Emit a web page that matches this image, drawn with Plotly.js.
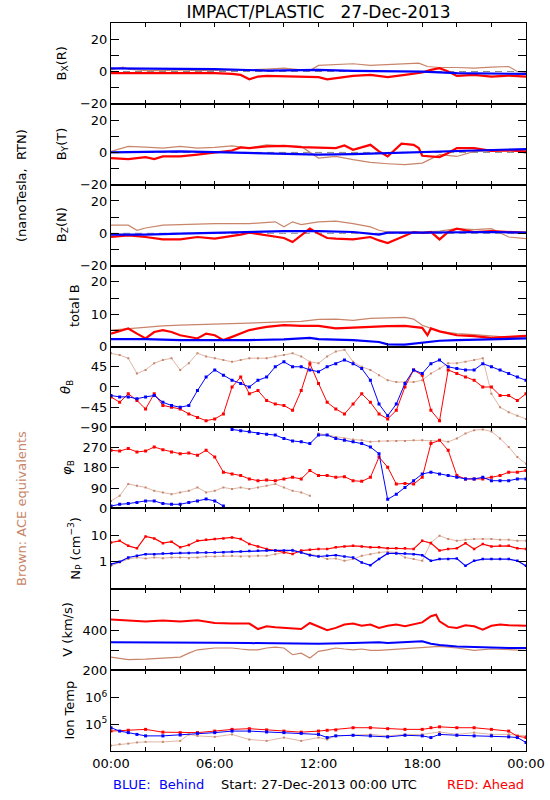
<!DOCTYPE html>
<html>
<head>
<meta charset="utf-8">
<script src="https://cdn.plot.ly/plotly-3.0.1.min.js"></script>
<style>html,body{margin:0;padding:0;background:#fff;}#chart{width:550px;height:800px;}</style>
</head>
<body>
<div id="chart"></div>
<script>
// ---------- time grids (hours since 27-Dec-2013 00:00 UTC) ----------
const tHalf = [0,0.5,1,1.5,2,2.5,3,3.5,4,4.5,5,5.5,6,6.5,7,7.5,8,8.5,9,9.5,10,10.5,11,11.5,12,12.5,13,13.5,14,14.5,15,15.5,16,16.5,17,17.5,18,18.5,19,19.5,20,20.5,21,21.5,22,22.5,23,23.5,24];

// ---------- Bx (R) ----------
const bxRedT = [0,1,2,3,4,5,6,7,7.5,8,8.5,9,10,11,12,12.5,13,14,15,16,17,18,18.5,19,19.5,20,21,22,23,24];
const bxRed  = [-1.0,-1.0,-0.6,-1.0,-0.6,-0.8,-1.0,-1.5,-2.1,-4.8,-3.1,-2.7,-3.1,-3.5,-3.5,-4.8,-4.2,-2.7,-2.1,-3.5,-2.1,-0.6,1.0,2.1,0,-2.7,-2.1,-3.1,-2.5,-3.1];
const bxBlueT = [0,3,6,9,12,14,16,18,20,22,24];
const bxBlue  = [1.9,1.5,1.5,0.6,1.0,0.4,0,0,-1.0,-1.2,-1.5];
const bxBrownT = [0,0.7,1,2,3,4,5,6,7,8,9,10,11,11.5,12,13,14,15,16,17,17.8,18.3,19,20,21,22,23,23.5,24];
const bxBrown  = [1.0,2.7,1.5,0.6,0.6,1.0,0.6,0.6,1.0,1.0,1.5,2.1,1.0,0.6,3.8,4.2,4.8,3.8,4.2,4.8,5.2,3.1,2.5,2.5,2.1,2.7,3.1,0,-0.6];

// ---------- By (T) ----------
const byRedT = [0,1,2,2.5,3,4,5,6,7,7.5,8,9,10,11,12,13,13.5,14,15,15.5,16,16.3,16.8,17.5,17.8,18,19,19.5,20,21,22,23,24];
const byRed  = [-3.5,-4.1,-2.9,-4.1,-2.5,-2.5,-1.4,0,1.2,3.1,2.7,3.7,4.1,3.3,3.1,2.7,4.3,1.6,4.7,0.6,-2.5,0.6,5.4,4.7,2.7,-2.1,-2.9,-0.4,2.7,2.7,1.0,1.2,0.6];
const byBlueT = [0,2,4,6,8,10,12,14,16,18,20,22,24];
const byBlue  = [0,0.2,0.6,0.2,-0.4,-0.8,-1.4,-1.0,-0.4,0.2,0.8,1.2,2.1];
const byBrownT = [0,1,2,3,4,5,6,7,8,9,10,11,12,13,14,15,16,17,18,19,20,21,22,23,24];
const byBrown  = [0.6,3.7,3.3,2.7,3.7,2.7,3.1,4.1,2.7,4.7,4.1,3.7,-3.5,-2.5,-4.5,-6.2,-7.0,-7.6,-6.6,-1.4,-2.5,0.6,1.0,1.6,-0.4];

// ---------- Bz (N) ----------
const bzRedT = [0,1,2,3,4,5,6,7,7.5,8,9,10,10.5,11,11.5,12,12.5,13,14,15,15.5,16,16.5,17,17.5,18,18.5,19,19.5,20,21,22,23,24];
const bzRed  = [-2.3,-1.3,-2.3,-3.8,-3.8,-2.3,-3.3,-1.9,-0.8,0.4,-1.3,-2.9,-5.4,-1.3,2.9,-0.2,-2.9,-3.3,-3.8,-2.3,-4.4,-6.0,-3.8,-1.3,0.8,0.2,0.8,-3.8,0.8,2.9,0.8,1.3,0.8,0.4];
const bzBlueT = [0,2,4,6,8,10,12,14,15.5,16,18,20,22,24];
const bzBlue  = [-0.8,-0.8,-0.2,0.4,0.8,1.3,1.3,0.8,-0.8,0.4,0.4,0.8,0.8,0.4];
const bzBrownT = [0,1,1.5,2,3,4,5,6,8,9,9.5,10,10.5,11,12,13,14,15,15.5,16,17,18,19,20,21,22,23,24];
const bzBrown  = [5.0,5.0,1.9,3.3,5.0,5.4,6.0,6.0,6.0,6.5,7.1,4.0,7.1,5.4,7.1,7.5,6.0,4.0,1.9,0.8,0.8,0.8,1.3,2.9,2.3,2.9,-2.3,-3.3];

// ---------- total B ----------
const btRedT = [0,0.5,1,1.5,2,2.5,3,3.5,4,5,5.5,6,6.5,7,7.5,8,9,10,11,12,13,14,15,16,17,18,18.3,18.5,19,20,21,22,23,24];
const btRed  = [4.0,4.7,5.6,4.0,2.5,4.5,5.1,4.5,3.5,2.5,4.0,3.5,2.0,3.0,4.0,5.1,6.1,6.6,6.4,6.4,5.6,5.9,6.1,6.3,6.4,5.8,3.5,5.6,4.7,3.5,3.2,2.7,3.0,3.3];
const btBlueT = [0,2,4,6,8,10,11.5,12,14,15.5,16,17,18,19,20,22,24];
const btBlue  = [2.3,2.3,2.0,1.9,2.0,2.2,2.7,2.3,2.0,1.4,0.7,0.6,1.1,1.8,2.0,2.2,2.5];
const btBrownT = [0,1,2,3,4,6,8,9,10,11,12,13,14,15,16,17,17.5,18,19,20,21,22,23,24];
const btBrown  = [5.1,5.6,5.9,6.4,6.6,6.9,7.1,7.3,7.6,7.8,8.4,8.5,8.1,8.7,8.9,9.0,8.5,6.6,4.7,4.0,3.7,3.3,3.0,2.5];

// ---------- theta_B (deg), half-hour samples ----------
const thRed   = [-22,-34,-15,-30,-49,-15,-41,-45,-49,-60,-68,-75,-71,-60,0,22,-15,-8,-30,-38,-41,-52,-8,52,8,-34,-49,-60,-38,-15,-34,-60,-71,-52,0,38,26,-52,-75,38,30,22,15,0,0,-19,-19,-30,-15];
const thBlue  = [-19,-22,-22,-26,-22,-19,-34,-41,-45,-41,-8,22,38,26,15,8,0,15,22,45,56,45,45,38,34,45,52,60,52,41,15,-38,-64,-38,8,38,30,52,60,45,41,38,38,52,45,38,30,22,15];
const thBrown = [75,71,64,30,38,53,60,64,38,53,75,68,64,60,56,60,64,64,64,68,71,75,68,56,53,68,79,83,56,45,38,26,15,11,11,11,15,30,41,53,53,56,60,64,-15,-45,-56,-64,-71];

// ---------- phi_B (deg) ----------
const phRed   = [258,255,266,251,255,273,261,251,243,246,236,258,228,161,153,146,131,123,126,123,131,138,131,168,146,146,138,141,123,120,138,228,183,108,111,108,138,288,303,258,146,131,131,131,138,146,161,161,168];
const phBlueT = [0,0.5,1,1.5,2,2.5,3,3.5,4,4.5,5,5.5,6,6.5,6.75,7,7.5,8,8.5,9,9.5,10,10.5,11,11.5,12,12.5,13,13.5,14,14.5,15,15.5,16,16.5,17,17.5,18,18.5,19,19.5,20,20.5,21,21.5,22,22.5,23,23.5,24];
const phBlue  = [10,18,21,26,33,33,21,18,18,26,33,41,33,10,null,351,345,341,333,330,326,311,300,296,288,326,326,311,303,296,288,273,243,40,63,93,123,153,161,153,146,138,131,131,138,123,123,123,131,131];
const phBrownT = [0,0.5,1,1.5,2,2.5,3,3.5,4,4.5,5,5.5,6,6.5,7,7.5,8,8.5,9,9.5,10,10.5,11,11.5,11.75,12,12.5,13,13.5,14,14.5,15,15.5,16,16.5,17,17.5,18,18.5,19,19.5,20,20.5,21,21.5,22,22.5,23,23.5,24];
const phBrown  = [33,56,108,101,93,78,71,63,71,78,93,71,78,93,86,93,86,93,101,108,93,78,71,56,null,333,326,318,311,306,303,296,299,300,300,300,303,303,300,303,296,311,333,348,351,342,311,273,228,198];

// ---------- N_P (cm^-3) ----------
const npRed   = [5.5,6.4,4.1,3.3,9.4,7.9,5.2,5.9,3.6,4.4,6.4,7.0,7.5,7.9,8.6,7.5,4.8,3.9,3.1,2.7,2.3,2.0,2.7,2.9,3.1,3.1,3.6,3.9,4.1,3.9,3.6,3.6,3.3,3.3,3.3,3.1,6.4,5.2,2.7,3.1,3.3,5.2,3.1,4.8,3.9,4.1,4.1,3.3,3.1];
const npBlue  = [0.81,1.0,1.47,1.70,1.97,1.97,2.09,2.09,2.16,2.16,2.28,2.28,2.28,2.35,2.43,2.50,2.57,2.65,2.73,2.73,2.73,2.73,2.28,1.80,1.60,1.70,1.80,1.60,1.47,0.94,0.74,1.27,2.09,2.09,2.09,1.97,1.80,1.09,1.27,1.27,1.34,0.70,1.09,1.27,1.27,1.27,1.27,1.09,0.70];
const npBrown = [0.70,0.94,1.27,1.47,1.34,1.47,1.38,1.47,1.47,1.38,1.47,1.60,1.60,1.70,1.70,1.60,1.60,1.70,1.70,1.97,2.28,2.90,2.28,1.97,1.70,1.27,1.34,1.09,1.27,1.70,1.97,2.28,2.43,2.28,1.47,1.27,1.09,5.5,10,7.5,6.4,7.0,7.5,7.5,7.5,7.0,7.0,6.4,6.4];

// ---------- V (km/s) ----------
const vRedT = [0,1,2,3,4,5,6,7,8,8.5,9,9.5,10,10.5,11,11.5,12,12.5,13,13.5,14,14.5,15,15.5,16,16.5,17,17.5,18,18.5,18.8,19,19.5,20,20.5,21,21.5,22,22.5,23,23.5,24];
const vRed  = [456,453,447,451,447,453,439,436,436,408,422,417,414,408,408,439,422,402,414,431,436,425,431,414,425,431,422,431,442,473,481,447,419,414,427,422,405,425,431,427,425,425];
const vBlueT = [0,2,4,6,8,10,12,14,15.5,16,17,18,18.5,19,20,21,22,23,24];
const vBlue  = [341,341,341,339,337,336,334,337,341,337,342,346,334,327,320,317,312,312,312];
const vBrownT = [0,0.5,1,2,3,4,4.5,5,6,7,7.5,8,8.5,9,9.5,10,10.5,11,11.5,12,12.5,13,13.5,14,14.5,15,15.5,16,17,18,19,20,21,22,23,24];
const vBrown  = [266,261,253,256,261,266,286,303,312,312,307,303,303,312,317,312,278,286,261,295,303,312,307,303,307,300,300,303,307,312,320,312,300,307,303,300];

// ---------- Ion Temp (K) ----------
const tpRedT = [0,1,2,3,4,5,6,7,8,9,10,11,12,12.5,13,14,15,16,17,18,18.5,19,20,21,22,23,23.5,24];
const tpRed  = [5.6e4,6.0e4,6.5e4,5.1e4,4.9e4,4.9e4,5.6e4,6.5e4,6.9e4,6.2e4,5.6e4,5.1e4,5.6e4,6.0e4,6.2e4,7.5e4,7.5e4,6.9e4,6.5e4,6.5e4,7.5e4,8.1e4,7.5e4,7.5e4,6.5e4,5.6e4,3.6e4,3.2e4];
const tpBlueT = [0,0.5,1,1.5,2,3,4,5,6,7,8,9,10,11,12,12.5,13,14,15,16,17,18,18.5,19,20,21,22,23,23.5,24];
const tpBlue  = [7.5e4,5.6e4,4.9e4,4.2e4,3.7e4,3.7e4,4.0e4,4.6e4,4.9e4,5.6e4,5.6e4,5.2e4,4.9e4,4.6e4,4.2e4,3.2e4,3.7e4,3.9e4,3.7e4,3.4e4,3.9e4,3.7e4,3.2e4,4.2e4,3.9e4,3.7e4,3.7e4,3.4e4,3.2e4,2.1e4];
const tpBrownT = [0,0.5,1,1.5,2,3,4,4.5,5,6,7,8,9,10,11,12,12.5,13,14,15,16,17,18,19,20,21,22,23,24];
const tpBrown  = [1.6e4,1.8e4,1.9e4,2.1e4,2.2e4,2.2e4,2.4e4,4.2e4,3.7e4,3.4e4,4.2e4,2.7e4,2.4e4,3.2e4,2.4e4,3.2e4,2.7e4,3.7e4,3.9e4,4.2e4,3.7e4,4.2e4,4.2e4,5.2e4,4.2e4,4.9e4,4.2e4,4.2e4,3.7e4];

// ---------- labels ----------
const xTickVals = [0,2,4,6,8,10,12,14,16,18,20,22,24];
const xTickText = ['00:00','','','06:00','','','12:00','','','18:00','','','00:00'];
const yTitles = ['B<sub>X</sub>(R)','B<sub>Y</sub>(T)','B<sub>Z</sub>(N)','total B','<i>θ</i><sub>B</sub>','<i>φ</i><sub>B</sub>','N<sub>P</sub> (cm<sup>−3</sup>)','V (km/s)','Ion Temp'];

// ---------- styling ----------
const RED = '#ff0000', BLUE = '#0000ff', BROWN = '#c8856a';
const FONT = 'DejaVu Sans, Verdana, sans-serif';
const traces = [];
function line(x, y, color, ax, w) {
  traces.push({x: x, y: y, type: 'scatter', mode: 'lines', line: {color: color, width: w},
    xaxis: 'x' + (ax === 1 ? '' : ax), yaxis: 'y' + (ax === 1 ? '' : ax), connectgaps: false});
}
function dots(x, y, color, ax, lw, ms) {
  traces.push({x: x, y: y, type: 'scatter', mode: 'lines+markers', line: {color: color, width: lw},
    marker: {color: color, size: ms, symbol: 'square'},
    xaxis: 'x' + (ax === 1 ? '' : ax), yaxis: 'y' + (ax === 1 ? '' : ax), connectgaps: false});
}

line(bxBrownT, bxBrown, BROWN, 1, 1.2); line(bxRedT, bxRed, RED, 1, 2.2); line(bxBlueT, bxBlue, BLUE, 1, 2.2);
line(byBrownT, byBrown, BROWN, 2, 1.2); line(byRedT, byRed, RED, 2, 2.2); line(byBlueT, byBlue, BLUE, 2, 2.2);
line(bzBrownT, bzBrown, BROWN, 3, 1.2); line(bzRedT, bzRed, RED, 3, 2.2); line(bzBlueT, bzBlue, BLUE, 3, 2.2);
line(btBrownT, btBrown, BROWN, 4, 1.2); line(btRedT, btRed, RED, 4, 2.2); line(btBlueT, btBlue, BLUE, 4, 2.2);
dots(tHalf, thBrown, BROWN, 5, 0.6, 2); dots(tHalf, thRed, RED, 5, 1, 3); dots(tHalf, thBlue, BLUE, 5, 1, 3);
dots(phBrownT, phBrown, BROWN, 6, 0.6, 2); dots(tHalf, phRed, RED, 6, 1, 3); dots(phBlueT, phBlue, BLUE, 6, 1, 3);
dots(tHalf, npBrown, BROWN, 7, 0.6, 2); dots(tHalf, npRed, RED, 7, 1.2, 2.5); dots(tHalf, npBlue, BLUE, 7, 1.2, 2.5);
line(vBrownT, vBrown, BROWN, 8, 1.2); line(vRedT, vRed, RED, 8, 2); line(vBlueT, vBlue, BLUE, 8, 2);
dots(tpBrownT, tpBrown, BROWN, 9, 0.6, 2); dots(tpRedT, tpRed, RED, 9, 1, 3); dots(tpBlueT, tpBlue, BLUE, 9, 1, 3);

const yCfg = [
  {range: [-20, 30], tickvals: [-20,-10,0,10,20], ticktext: ['−20','','0','','20']},
  {range: [-20, 30], tickvals: [-20,-10,0,10,20], ticktext: ['−20','','0','','20']},
  {range: [-20, 30], tickvals: [-20,-10,0,10,20], ticktext: ['−20','','0','','20']},
  {range: [0, 25], tickvals: [0,5,10,15,20], ticktext: ['0','','10','','20']},
  {range: [-90, 90], tickvals: [-90,-45,0,45], ticktext: ['−90','−45','0','45']},
  {range: [0, 360], tickvals: [0,90,180,270], ticktext: ['0','90','180','270']},
  {type: 'log', range: [-1.05, 2.05], tickvals: [1,10], ticktext: ['1','10']},
  {range: [200, 610], tickvals: [200,300,400,500], ticktext: ['200','','400','']},
  {type: 'log', range: [4.0, 7.04], tickvals: [1e5,1e6], ticktext: ['10<sup>5</sup>','10<sup>6</sup>']}
];
const titleX = [62, 62, 62, 74, 66, 68, 75, 68, 70];

const layout = {
  width: 550, height: 800,
  margin: {l: 111, r: 24, t: 23, b: 49, pad: 0},
  paper_bgcolor: '#ffffff', plot_bgcolor: '#ffffff',
  showlegend: false,
  font: {family: FONT, size: 13, color: '#000'},
  title: {text: 'IMPACT/PLASTIC\u00a0\u00a0\u00a027-Dec-2013', font: {family: FONT, size: 17, color: '#000'},
          x: 0.5, xref: 'paper', xanchor: 'center', y: 1 - 12/800, yref: 'container', yanchor: 'middle'},
  annotations: [], shapes: []
};

for (let i = 1; i <= 9; i++) {
  const s = i === 1 ? '' : String(i);
  const dom = [(9 - i) / 9, (10 - i) / 9];
  layout['xaxis' + s] = {
    domain: [0, 1], anchor: 'y' + s, range: [0, 24], matches: i === 1 ? undefined : 'x',
    tickmode: 'array', tickvals: xTickVals, ticktext: xTickText, showticklabels: i === 9,
    ticks: 'inside', ticklen: 4, tickcolor: '#000', tickwidth: 1,
    showline: true, linecolor: '#000', linewidth: 1, mirror: 'ticks',
    showgrid: false, zeroline: false, tickfont: {family: FONT, size: 13, color: '#000'}
  };
  const c = yCfg[i - 1];
  layout['yaxis' + s] = Object.assign({
    domain: dom, anchor: 'x' + s, tickmode: 'array',
    ticks: 'inside', ticklen: 8, tickcolor: '#000', tickwidth: 1,
    showline: true, linecolor: '#000', linewidth: 1, mirror: 'ticks',
    showgrid: false, zeroline: false, tickfont: {family: FONT, size: 13, color: '#000'}
  }, c);
  layout.annotations.push({
    text: yTitles[i - 1], textangle: -90, showarrow: false,
    xref: 'paper', x: (titleX[i - 1] - 111) / 415, xanchor: 'center',
    yref: 'paper', y: (dom[0] + dom[1]) / 2, yanchor: 'middle',
    font: {family: FONT, size: 13, color: '#000'}
  });
  if (i <= 3) {
    layout.shapes.push({type: 'line', xref: 'x' + s + ' domain', x0: 0, x1: 1, yref: 'y' + s, y0: 0, y1: 0,
      line: {color: '#888888', width: 1, dash: '7px,5px'}, layer: 'below'});
  }
}

layout.annotations.push(
  {text: '(nanoTesla,\u00a0\u00a0RTN)', textangle: -90, showarrow: false, xref: 'paper', x: (21 - 111) / 415, xanchor: 'center',
   yref: 'paper', y: (751 - 186) / 728, yanchor: 'middle', font: {family: FONT, size: 13, color: '#000'}},
  {text: 'Brown:\u00a0ACE\u00a0equivalents', textangle: -90, showarrow: false, xref: 'paper', x: (21 - 111) / 415, xanchor: 'center',
   yref: 'paper', y: (751 - 509) / 728, yanchor: 'middle', font: {family: FONT, size: 13, color: BROWN}},
  {text: 'BLUE:\u00a0\u00a0Behind', showarrow: false, xref: 'paper', x: 0, xanchor: 'left',
   yref: 'paper', y: (751 - 784) / 728, yanchor: 'middle', font: {family: FONT, size: 13, color: BLUE}},
  {text: 'Start:\u00a027-Dec-2013\u00a000:00\u00a0UTC', showarrow: false, xref: 'paper', x: (319 - 111) / 415, xanchor: 'center',
   yref: 'paper', y: (751 - 784) / 728, yanchor: 'middle', font: {family: FONT, size: 13, color: '#000'}},
  {text: 'RED:\u00a0Ahead', showarrow: false, xref: 'paper', x: 1, xanchor: 'right',
   yref: 'paper', y: (751 - 784) / 728, yanchor: 'middle', font: {family: FONT, size: 13, color: RED}}
);

Plotly.newPlot('chart', traces, layout, {staticPlot: true, displayModeBar: false});
</script>
</body>
</html>
